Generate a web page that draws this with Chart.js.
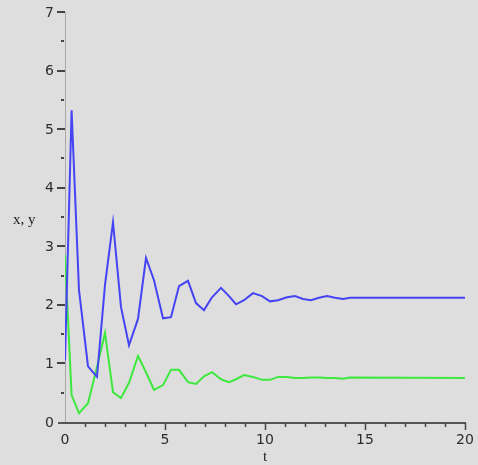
<!DOCTYPE html>
<html>
<head>
<meta charset="utf-8">
<script src="https://cdn.jsdelivr.net/npm/chart.js@4.4.1/dist/chart.umd.min.js"></script>
<style>
    html, body { margin: 0; padding: 0; background: #dedede; }
    #wrap { width: 478px; height: 465px; }
</style>
</head>
<body>
<div id="wrap"><canvas id="plot"></canvas></div>
<script>
// Solution of the system, sampled in t
const tValues = [0, 0.33, 0.7, 1.15, 1.6, 2.0, 2.4, 2.8, 3.2, 3.65, 4.05, 4.45, 4.9, 5.3, 5.7,
    6.15, 6.55, 6.95, 7.35, 7.8, 8.2, 8.55, 8.95, 9.4, 9.85, 10.25, 10.65, 11.1, 11.5, 11.9,
    12.3, 12.7, 13.1, 13.5, 13.9, 14.25, 20];
const xValues = [1.05, 5.32, 2.25, 0.95, 0.77, 2.34, 3.41, 1.96, 1.31, 1.76, 2.8, 2.42, 1.77, 1.79, 2.32,
    2.41, 2.03, 1.91, 2.13, 2.29, 2.15, 2.01, 2.08, 2.2, 2.15, 2.06, 2.08, 2.13, 2.15, 2.1,
    2.08, 2.12, 2.15, 2.12, 2.1, 2.12, 2.12];
const yValues = [2.85, 0.46, 0.15, 0.32, 0.94, 1.52, 0.51, 0.41, 0.67, 1.13, 0.85, 0.55, 0.63, 0.89, 0.89,
    0.68, 0.65, 0.78, 0.85, 0.73, 0.68, 0.73, 0.8, 0.77, 0.72, 0.72, 0.77, 0.77, 0.75, 0.75,
    0.76, 0.76, 0.75, 0.75, 0.74, 0.76, 0.75];
const tTicks = [0, 5, 10, 15, 20];
const vTicks = [0, 1, 2, 3, 4, 5, 6, 7];

// Axes, tick marks and labels drawn by hand
const axesPlugin = {
    id: 'axes',
    beforeDatasetsDraw(chart) {
        const { ctx, scales: { x, y } } = chart;
        const x0 = x.getPixelForValue(0), x1 = x.getPixelForValue(20);
        const y0 = y.getPixelForValue(0), y1 = y.getPixelForValue(7);
        ctx.save();
        // vertical axis
        ctx.strokeStyle = '#a8a8a8';
        ctx.lineWidth = 1;
        ctx.beginPath();
        ctx.moveTo(x0 + 0.5, y1);
        ctx.lineTo(x0 + 0.5, y0);
        ctx.stroke();
        // horizontal axis
        ctx.strokeStyle = '#555';
        ctx.lineWidth = 2;
        ctx.beginPath();
        ctx.moveTo(x0 - 7, y0 + 1);
        ctx.lineTo(x1 + 1, y0 + 1);
        ctx.stroke();

        ctx.strokeStyle = '#444';
        ctx.lineWidth = 2;
        // y ticks: major at integers, minor at halves
        for (let v = 0.5; v <= 7; v += 0.5) {
            const py = Math.round(y.getPixelForValue(v));
            const major = Number.isInteger(v);
            ctx.beginPath();
            ctx.moveTo(x0 - (major ? 8 : 4), py);
            ctx.lineTo(x0 - (major ? 0 : 1), py);
            ctx.stroke();
        }
        // t ticks: major every 5, minor every 1
        ctx.lineWidth = 1.5;
        for (let t = 1; t <= 20; t++) {
            const px = Math.round(x.getPixelForValue(t)) + 0.5;
            const major = t % 5 === 0;
            ctx.beginPath();
            ctx.moveTo(px, y0 + 1);
            ctx.lineTo(px, y0 + (major ? 8 : 5));
            ctx.stroke();
        }

        ctx.fillStyle = '#2c2c2c';
        ctx.font = '14px "DejaVu Sans"';
        ctx.textAlign = 'right';
        ctx.textBaseline = 'middle';
        vTicks.forEach(v => ctx.fillText(String(v), x0 - 11, y.getPixelForValue(v) + 1));
        ctx.textAlign = 'center';
        ctx.textBaseline = 'top';
        tTicks.forEach(t => ctx.fillText(String(t), x.getPixelForValue(t), y0 + 11));

        // axis titles
        ctx.fillStyle = '#222';
        ctx.font = '15px "Liberation Serif"';
        ctx.textAlign = 'left';
        ctx.textBaseline = 'middle';
        ctx.fillText('x, y', 13, 220);
        ctx.textAlign = 'center';
        ctx.fillText('t', (x0 + x1) / 2, 457);
        ctx.restore();
    }
};

new Chart(document.getElementById('plot'), {
    type: 'line',
    data: {
        datasets: [
            {
                label: 'x',
                data: tValues.map((t, i) => ({ x: t, y: xValues[i] })),
                borderColor: '#4444f4',
                borderWidth: 2,
                pointRadius: 0,
                tension: 0
            },
            {
                label: 'y',
                data: tValues.map((t, i) => ({ x: t, y: yValues[i] })),
                borderColor: '#3ee83e',
                borderWidth: 2,
                pointRadius: 0,
                tension: 0
            }
        ]
    },
    options: {
        responsive: true,
        maintainAspectRatio: false,
        animation: false,
        layout: { padding: { left: 65, right: 13, top: 12, bottom: 43 } },
        scales: {
            x: { type: 'linear', min: 0, max: 20, display: false },
            y: { min: 0, max: 7, display: false }
        },
        plugins: {
            legend: { display: false },
            tooltip: { enabled: false }
        }
    },
    plugins: [axesPlugin]
});
</script>
</body>
</html>
